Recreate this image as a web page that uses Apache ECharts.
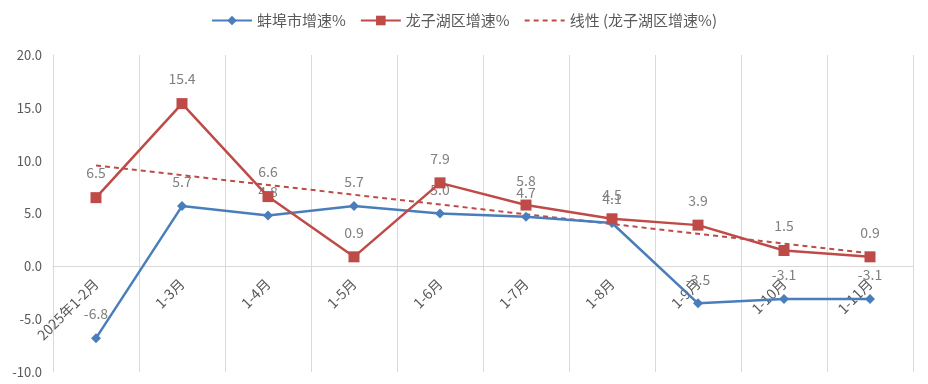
<!DOCTYPE html>
<html><head><meta charset="utf-8">
<script src="https://cdn.jsdelivr.net/npm/echarts@6/dist/echarts.min.js"></script>
<style>html,body{margin:0;padding:0;background:#fff}#c{width:928px;height:384px}</style>
</head><body><div id="c"></div>
<script>
const categories = ['2025年1-2月','1-3月','1-4月','1-5月','1-6月','1-7月','1-8月','1-9月','1-10月','1-11月'];
const bengbu = [-6.8, 5.7, 4.8, 5.7, 5.0, 4.7, 4.1, -3.5, -3.1, -3.1];
const longzihu = [6.5, 15.4, 6.6, 0.9, 7.9, 5.8, 4.5, 3.9, 1.5, 0.9];
const trendEnds = [9.55, 1.23];
const seriesNames = ['蚌埠市增速%', '龙子湖区增速%', '线性 (龙子湖区增速%)'];
const yTicks = { min: -10, max: 20, interval: 5 };

const blue = '#4a7ebb', red = '#be4b48';
const chart = echarts.init(document.getElementById('c'));
const font = 'Microsoft YaHei, "Noto Sans CJK SC", sans-serif';
const lbl = { show: true, position: 'top', distance: 12, color: '#808080', fontSize: 14, fontFamily: font, formatter: p => Number(p.value).toFixed(1) };
const gridTop = 55, gridBottom = 12, chartH = 384;
const plotH = chartH - gridTop - gridBottom;
const zeroOffset = -plotH * (0 - yTicks.min) / (yTicks.max - yTicks.min);
chart.setOption({
  animation: false,
  textStyle: { fontFamily: font },
  legend: {
    top: 8, left: 'center', itemWidth: 40, itemHeight: 12, itemGap: 14,
    textStyle: { color: '#595959', fontSize: 15, fontFamily: font },
    data: [
      { name: seriesNames[0] },
      { name: seriesNames[1] },
      { name: seriesNames[2], itemStyle: { opacity: 0 } }
    ]
  },
  grid: { left: 53, right: 15, top: gridTop, bottom: gridBottom, containLabel: false, outerBoundsMode: 'none' },
  xAxis: [{
    type: 'category', data: categories, boundaryGap: true, position: 'bottom',
    offset: zeroOffset,
    axisLine: { onZero: false, lineStyle: { color: '#d9d9d9' } },
    axisTick: { show: false },
    splitLine: { show: true, lineStyle: { color: '#d9d9d9' } },
    axisLabel: { rotate: 45, color: '#595959', fontSize: 14, interval: 0, margin: 15 }
  }],
  yAxis: {
    type: 'value', min: yTicks.min, max: yTicks.max, interval: yTicks.interval,
    axisLine: { show: true, lineStyle: { color: '#d9d9d9' } },
    axisTick: { show: false },
    splitLine: { show: false },
    axisLabel: { color: '#595959', fontSize: 13, margin: 11, formatter: v => v.toFixed(1) }
  },
  series: [
    { name: seriesNames[0], type: 'line', data: bengbu, symbol: 'diamond', symbolSize: 10,
      lineStyle: { color: blue, width: 2.5 }, itemStyle: { color: blue }, label: lbl, z: 3 },
    { name: seriesNames[1], type: 'line', data: longzihu, symbol: 'rect', symbolSize: 11,
      lineStyle: { color: red, width: 2.5 }, itemStyle: { color: red }, label: lbl, z: 4 },
    { name: seriesNames[2], type: 'line', symbol: 'none',
      data: [[categories[0], trendEnds[0]], [categories[categories.length - 1], trendEnds[1]]],
      lineStyle: { color: red, width: 2, type: [5, 4] }, itemStyle: { color: red }, z: 2 }
  ]
});
</script></body></html>
